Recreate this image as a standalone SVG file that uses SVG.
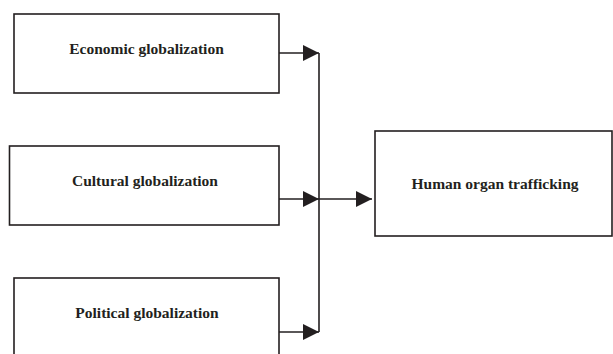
<svg xmlns="http://www.w3.org/2000/svg" width="613" height="354" viewBox="0 0 613 354">
<style>
.box{fill:#fff;stroke:#231f20;stroke-width:1.6}
.lbl{font-family:"Liberation Serif","Times New Roman",serif;font-weight:bold;font-size:15.5px;fill:#231f20;text-anchor:middle}
.con{fill:none;stroke:#231f20;stroke-width:1.6}
</style>
<defs>
<marker id="ah" viewBox="0 0 16 16" refX="16" refY="8" markerWidth="16" markerHeight="16" markerUnits="userSpaceOnUse" orient="auto">
<path d="M0,0 L16,8 L0,16 Z" fill="#231f20"/>
</marker>
</defs>
<rect width="613" height="354" fill="#fff"/>
<g id="economic"><rect class="box" x="14" y="14" width="265" height="79"/><text class="lbl" x="146.5" y="54">Economic globalization</text></g>
<g id="cultural"><rect class="box" x="9.5" y="146" width="269.5" height="79"/><text class="lbl" x="145" y="186">Cultural globalization</text></g>
<g id="political"><rect class="box" x="14" y="278" width="265" height="90"/><text class="lbl" x="147" y="318">Political globalization</text></g>
<g id="trafficking"><rect class="box" x="375" y="131" width="237" height="105"/><text class="lbl" x="495" y="189">Human organ trafficking</text></g>
<g id="connectors">
<path class="con" d="M279,53 H319" marker-end="url(#ah)"/>
<path class="con" d="M279,199 H319" marker-end="url(#ah)"/>
<path class="con" d="M279,332 H319" marker-end="url(#ah)"/>
<path class="con" d="M319,53 V332"/>
<path class="con" d="M319,199 H372" marker-end="url(#ah)"/>
</g>
</svg>
